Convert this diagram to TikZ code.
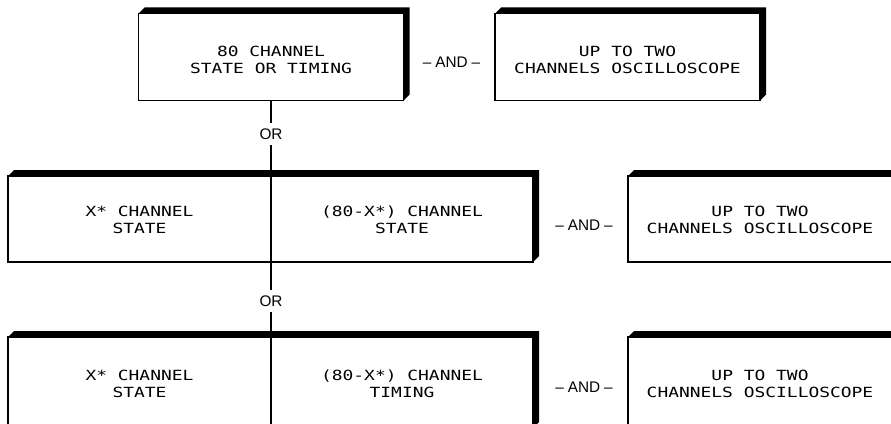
\documentclass[tikz,border=0pt]{standalone}
\usepackage{fontspec}
\newfontfamily\hpmono[FakeStretch=1.28]{DejaVu Sans Mono}
\newfontfamily\hpsans{Liberation Sans}
\newcommand\bandbox[2]{\fill (#1.north west) -- ++(6,-6) -- ([shift={(6,-6)}]#2.north east) -- ([shift={(6,-6)}]#2.south east) -- (#2.south east) -- (#2.north east) -- cycle;}
\begin{document}
\begin{tikzpicture}[x=0.75pt,y=-0.75pt,
  boxA/.style={draw, line width=1.1pt, inner sep=0pt, outer sep=0pt, minimum width=265*0.75pt, minimum height=87*0.75pt},
  half/.style={boxA, minimum width=263*0.75pt},
  lbl/.style={font=\hpmono\fontsize{10.5}{12.75}\selectfont, align=center, inner sep=0pt},
  andlbl/.style={font=\hpsans\fontsize{11.5}{13}\selectfont, inner sep=0pt},
  orlbl/.style={font=\hpsans\fontsize{11.5}{13}\selectfont, inner sep=4pt},
  conn/.style={line width=1pt}]
\fill[white] (0,0) rectangle (891,424);
\useasboundingbox (0,0) rectangle (891,424);
\clip (0,0) rectangle (891,424);
% top row
\node[boxA] (tl) at (271,57) {};
\node[boxA] (tr) at (627.5,57) {};
% middle row
\node[half, minimum height=86*0.75pt] (ml1) at (139.5,219) {};
\node[half, minimum height=86*0.75pt, minimum width=262*0.75pt] (ml2) at (402,219) {};
\node[boxA, minimum height=86*0.75pt] (mr) at (760.5,219) {};
% bottom row
\node[half, minimum height=91*0.75pt] (bl1) at (139.5,382.5) {};
\node[half, minimum height=91*0.75pt, minimum width=262*0.75pt] (bl2) at (402,382.5) {};
\node[boxA, minimum height=91*0.75pt] (br) at (760.5,382.5) {};
% texts
\node[lbl] (ttl) at (271,60) {80 CHANNEL\\STATE OR TIMING};
\node[lbl] (ttr) at (627.5,60) {UP TO TWO\\CHANNELS OSCILLOSCOPE};
\node[lbl] (tml1) at (139.5,220) {X* CHANNEL\\STATE};
\node[lbl] (tml2) at (402,220) {(80-X*) CHANNEL\\STATE};
\node[lbl] (tmr) at (760,220) {UP TO TWO\\CHANNELS OSCILLOSCOPE};
\node[lbl] (tbl1) at (139.5,384) {X* CHANNEL\\STATE};
\node[lbl] (tbl2) at (402,384) {(80-X*) CHANNEL\\TIMING};
\node[lbl] (tbr) at (760,384) {UP TO TWO\\CHANNELS OSCILLOSCOPE};
% AND labels
\node[andlbl] (and1) at (451.5,62) {–\hspace{3pt}AND\hspace{3pt}–};
\node[andlbl] (and2) at (584,225) {–\hspace{3pt}AND\hspace{3pt}–};
\node[andlbl] (and3) at (584,387) {–\hspace{3pt}AND\hspace{3pt}–};
% OR labels and connectors
\node[orlbl] (or1) at (271,134) {OR};
\node[orlbl] (or2) at (271,301) {OR};
\draw[conn] (tl.south) -- (or1);
\draw[conn] (or1) -- (ml1.north east);
\draw[conn] (ml1.south east) -- (or2);
\draw[conn] (or2) -- (bl1.north east);
% 3D bands
\bandbox{tl}{tl}
\bandbox{tr}{tr}
\bandbox{ml1}{ml2}
\bandbox{mr}{mr}
\bandbox{bl1}{bl2}
\bandbox{br}{br}
\end{tikzpicture}
\end{document}
